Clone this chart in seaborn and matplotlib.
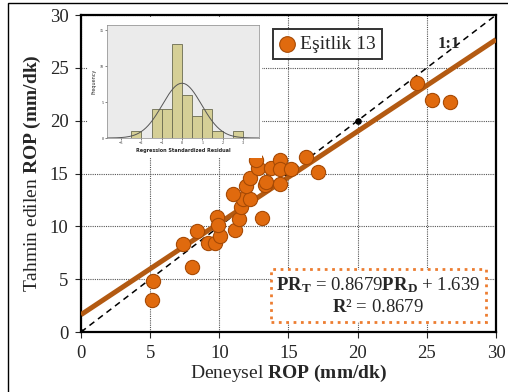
import numpy as np
import matplotlib
matplotlib.use("Agg")
import matplotlib.pyplot as plt
import seaborn as sns
from matplotlib.patches import Rectangle

# Deneysel ve tahmin edilen ROP (mm/dk)
deneysel = [5.1, 5.2, 8.0, 7.4, 8.4, 9.2, 9.7, 10.05, 9.8, 9.9, 11.1, 11.4,
            13.1, 11.55, 11.7, 12.2, 11.0, 11.9, 12.2, 12.8, 12.65, 13.3,
            13.4, 13.7, 14.4, 14.4, 14.4, 15.2, 16.3, 17.1, 24.3, 25.4, 26.7]
tahmin = [3.0, 4.8, 6.2, 8.3, 9.6, 8.4, 8.4, 9.1, 10.9, 10.1, 9.7, 10.7,
          10.75, 11.8, 12.6, 12.6, 13.1, 13.8, 14.6, 15.5, 16.3, 13.9,
          14.2, 15.55, 16.3, 15.4, 14.0, 15.4, 16.6, 15.1, 23.6, 22.0, 21.8]

egim = 0.8679
kesisim = 1.639

# Regresyon artiklari histogrami (SPSS ciktisi)
bin_kenarlari = [-2.5, -2.0, -1.5, -1.0, -0.5, 0.0, 0.5, 1.0, 1.5, 2.0, 2.5, 3.0]
frekans = [1, 0, 4, 4, 13, 6, 3, 4, 1, 0, 1]
artik_ort = 0.0
artik_std = 0.97

sns.set_style("white")
plt.rcParams['font.family'] = ['Liberation Serif', 'DejaVu Serif']
plt.rcParams['mathtext.fontset'] = 'custom'
plt.rcParams['mathtext.rm'] = 'Liberation Serif'
plt.rcParams['mathtext.bf'] = 'Liberation Serif:bold'
plt.rcParams['mathtext.it'] = 'Liberation Serif:italic'

fig = plt.figure(figsize=(5.08, 3.92), dpi=100)
ax = fig.add_axes([0.1594, 0.153, 0.817, 0.8087])

x_cizgi = np.array([0, 30])
ax.plot(x_cizgi, x_cizgi, color='black', linestyle=(0, (4, 3)), linewidth=1.1, zorder=3)
ax.plot(x_cizgi, egim * x_cizgi + kesisim, color='#B35A12', linewidth=3.6,
        solid_capstyle='butt', zorder=4)
sns.scatterplot(x=deneysel, y=tahmin, ax=ax, s=105, color='#E06A0E',
                edgecolor='#A64A05', linewidth=0.8, zorder=5, label='Eşitlik 13')
ax.scatter([0, 20], [0, 20], s=14, color='black', zorder=6)

ax.set_xlim(0, 30)
ax.set_ylim(0, 30)
ax.set_xticks(range(0, 31, 5))
ax.set_yticks(range(0, 31, 5))
ax.tick_params(axis='both', labelsize=13.5, length=4, width=0.8, direction='out',
               left=True, bottom=True, pad=5)
ax.grid(True, color='#555555', linestyle=(0, (1, 1)), linewidth=0.8)
for sp in ax.spines.values():
    sp.set_linewidth(1.6)
    sp.set_color('black')

ax.set_xlabel(r'Deneysel $\mathbf{ROP\ (mm/dk)}$', fontsize=14, labelpad=1)
ax.set_ylabel(r'Tahmin edilen $\mathbf{ROP\ (mm/dk)}$', fontsize=14, labelpad=5)

ax.text(26.6, 27.3, '1:1', fontsize=12, fontweight='bold', ha='center', va='center', zorder=7)

leg = ax.legend(loc='upper left', bbox_to_anchor=(0.462, 0.955), fontsize=14,
                frameon=True, fancybox=False, handletextpad=0.2, handlelength=0.9,
                borderpad=0.3, markerscale=1.1, borderaxespad=0)
leg.get_frame().set_edgecolor('black')
leg.get_frame().set_linewidth(1.4)

ax.text(21.5, 3.4,
        r'$\mathbf{PR_T}$ = 0.8679$\mathbf{PR_D}$ + 1.639' + '\n' + r'$\mathbf{R}$² = 0.8679',
        fontsize=13.5, ha='center', va='center', linespacing=1.3, zorder=7,
        bbox=dict(boxstyle='square,pad=0.3', facecolor='white',
                  edgecolor='#ED7D31', linestyle=':', linewidth=2))

# Ic grafik: artik histogrami
fig.patches.append(Rectangle((88 / 508, 1 - 158 / 392), 174 / 508, 141 / 392,
                             transform=fig.transFigure, facecolor='white',
                             edgecolor='none', zorder=2))
ins = fig.add_axes([107 / 508, 1 - 138 / 392, 152 / 508, 113 / 392], zorder=3)
ins.set_facecolor('#EBEBEB')
merkezler = [(bin_kenarlari[i] + bin_kenarlari[i + 1]) / 2 for i in range(len(frekans))]
sns.histplot(x=merkezler, weights=frekans, bins=bin_kenarlari, ax=ins,
             color='#D5CF96', edgecolor='#6B6B50', linewidth=0.6, alpha=1)
xx = np.linspace(-3.7, 3.8, 200)
n_top = sum(frekans)
yy = n_top * 0.5 / (artik_std * np.sqrt(2 * np.pi)) * np.exp(-0.5 * ((xx - artik_ort) / artik_std) ** 2)
ins.plot(xx, yy, color='#555555', linewidth=0.7)
ins.set_xlim(-3.7, 3.8)
ins.set_ylim(0, 15.7)
ins.set_xticks(range(-3, 4))
ins.set_yticks([0, 5, 10, 15])
ins.tick_params(labelsize=3, length=1.5, width=0.4, pad=1, left=True, bottom=True)
ins.set_xlabel('Regression Standardized Residual', fontsize=3.5, family='DejaVu Sans',
               fontweight='bold', labelpad=1.5)
ins.set_ylabel('Frequency', fontsize=3.5, family='DejaVu Sans', labelpad=2)
for sp in ins.spines.values():
    sp.set_linewidth(0.5)
    sp.set_color('#888888')

# Dis cerceve
fig.patches.append(Rectangle((8 / 508, -0.1), 1.2, 1 - 3 / 392 + 0.1,
                             transform=fig.transFigure, facecolor='none',
                             edgecolor='black', linewidth=1.0, zorder=10))

fig.savefig('out.png', dpi=100)
